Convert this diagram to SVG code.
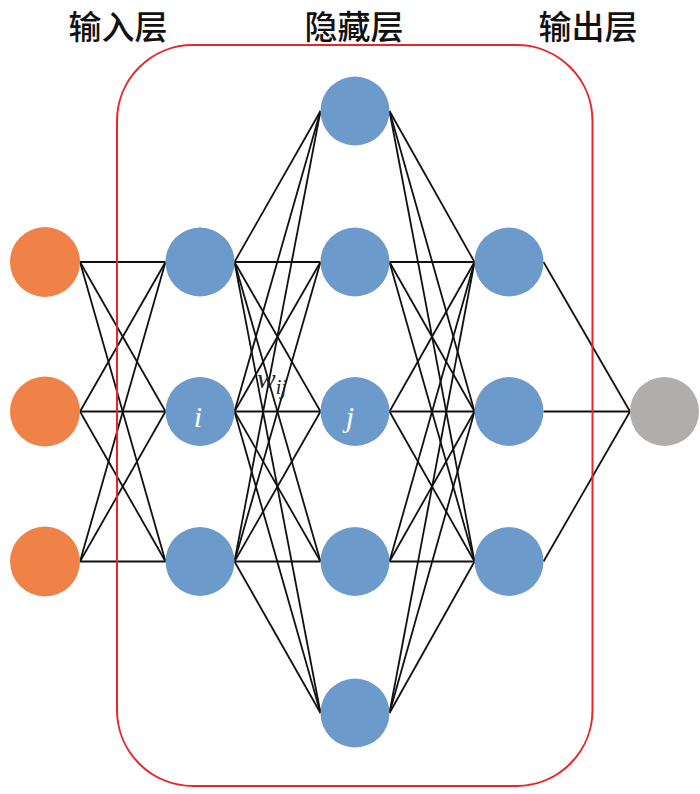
<svg xmlns="http://www.w3.org/2000/svg" width="700" height="794" viewBox="0 0 700 794">
<style>
.title{font-family:"Noto Sans CJK SC","Noto Sans",sans-serif;font-size:33px;font-weight:500;fill:#111;text-anchor:middle}
.conn line{stroke:#111;stroke-width:1.8}
.in{fill:#EF8246}
.hid{fill:#6C9BCB}
.out{fill:#B2ADAD}
.sym{font-family:"Liberation Serif",serif;font-style:italic}
</style>
<rect width="700" height="794" fill="#fff"/>
<text class="title" x="118" y="39">输入层</text>
<text class="title" x="354" y="39">隐藏层</text>
<text class="title" x="588" y="39">输出层</text>
<g id="connectors" class="conn">
<line x1="80" y1="262" x2="165.5" y2="262"/><line x1="80" y1="262" x2="165.5" y2="411.5"/><line x1="80" y1="262" x2="165.5" y2="561.5"/>
<line x1="80" y1="411.5" x2="165.5" y2="262"/><line x1="80" y1="411.5" x2="165.5" y2="411.5"/><line x1="80" y1="411.5" x2="165.5" y2="561.5"/>
<line x1="80" y1="561.5" x2="165.5" y2="262"/><line x1="80" y1="561.5" x2="165.5" y2="411.5"/><line x1="80" y1="561.5" x2="165.5" y2="561.5"/>
<line x1="234.5" y1="262" x2="320.5" y2="111"/><line x1="234.5" y1="262" x2="320.5" y2="262"/><line x1="234.5" y1="262" x2="320.5" y2="411.5"/><line x1="234.5" y1="262" x2="320.5" y2="561.5"/><line x1="234.5" y1="262" x2="320.5" y2="713"/>
<line x1="234.5" y1="411.5" x2="320.5" y2="111"/><line x1="234.5" y1="411.5" x2="320.5" y2="262"/><line x1="234.5" y1="411.5" x2="320.5" y2="411.5"/><line x1="234.5" y1="411.5" x2="320.5" y2="561.5"/><line x1="234.5" y1="411.5" x2="320.5" y2="713"/>
<line x1="234.5" y1="561.5" x2="320.5" y2="111"/><line x1="234.5" y1="561.5" x2="320.5" y2="262"/><line x1="234.5" y1="561.5" x2="320.5" y2="411.5"/><line x1="234.5" y1="561.5" x2="320.5" y2="561.5"/><line x1="234.5" y1="561.5" x2="320.5" y2="713"/>
<line x1="389.5" y1="111" x2="474.5" y2="262"/><line x1="389.5" y1="111" x2="474.5" y2="411.5"/><line x1="389.5" y1="111" x2="474.5" y2="561.5"/>
<line x1="389.5" y1="262" x2="474.5" y2="262"/><line x1="389.5" y1="262" x2="474.5" y2="411.5"/><line x1="389.5" y1="262" x2="474.5" y2="561.5"/>
<line x1="389.5" y1="411.5" x2="474.5" y2="262"/><line x1="389.5" y1="411.5" x2="474.5" y2="411.5"/><line x1="389.5" y1="411.5" x2="474.5" y2="561.5"/>
<line x1="389.5" y1="561.5" x2="474.5" y2="262"/><line x1="389.5" y1="561.5" x2="474.5" y2="411.5"/><line x1="389.5" y1="561.5" x2="474.5" y2="561.5"/>
<line x1="389.5" y1="713" x2="474.5" y2="262"/><line x1="389.5" y1="713" x2="474.5" y2="411.5"/><line x1="389.5" y1="713" x2="474.5" y2="561.5"/>
<line x1="543.5" y1="262" x2="630" y2="411.5"/><line x1="543.5" y1="411.5" x2="630" y2="411.5"/><line x1="543.5" y1="561.5" x2="630" y2="411.5"/>
</g>
<rect id="hidden-box" x="117" y="45" width="475.5" height="741" rx="76" ry="76" fill="none" stroke="#E8262A" stroke-width="2"/>
<g id="input-nodes">
<circle id="in1" class="in" cx="45" cy="262" r="35"/>
<circle id="in2" class="in" cx="45" cy="411.5" r="35"/>
<circle id="in3" class="in" cx="45" cy="561.5" r="35"/>
</g>
<g id="layer2">
<circle id="h1a" class="hid" cx="200" cy="262" r="34.5"/>
<g id="h1b"><circle class="hid" cx="200" cy="411.5" r="34.5"/><text class="sym" x="198" y="427" font-size="30" fill="#fff" text-anchor="middle">i</text></g>
<circle id="h1c" class="hid" cx="200" cy="561.5" r="34.5"/>
</g>
<g id="layer3">
<circle id="h2a" class="hid" cx="355" cy="111" r="34.5"/>
<circle id="h2b" class="hid" cx="355" cy="262" r="34.5"/>
<g id="h2c"><circle class="hid" cx="355" cy="411.5" r="34.5"/><text class="sym" x="350" y="427" font-size="30" fill="#fff" text-anchor="middle">j</text></g>
<circle id="h2d" class="hid" cx="355" cy="561.5" r="34.5"/>
<circle id="h2e" class="hid" cx="355" cy="713" r="34.5"/>
</g>
<g id="layer4">
<circle id="h3a" class="hid" cx="509" cy="262" r="34.5"/>
<circle id="h3b" class="hid" cx="509" cy="411.5" r="34.5"/>
<circle id="h3c" class="hid" cx="509" cy="561.5" r="34.5"/>
</g>
<g id="output-node">
<circle id="out1" class="out" cx="664.5" cy="411.5" r="34.5"/>
</g>
<text id="wij" class="sym" x="257" y="388" font-size="28" fill="#222">w<tspan font-size="20" dy="6">ij</tspan></text>
</svg>
